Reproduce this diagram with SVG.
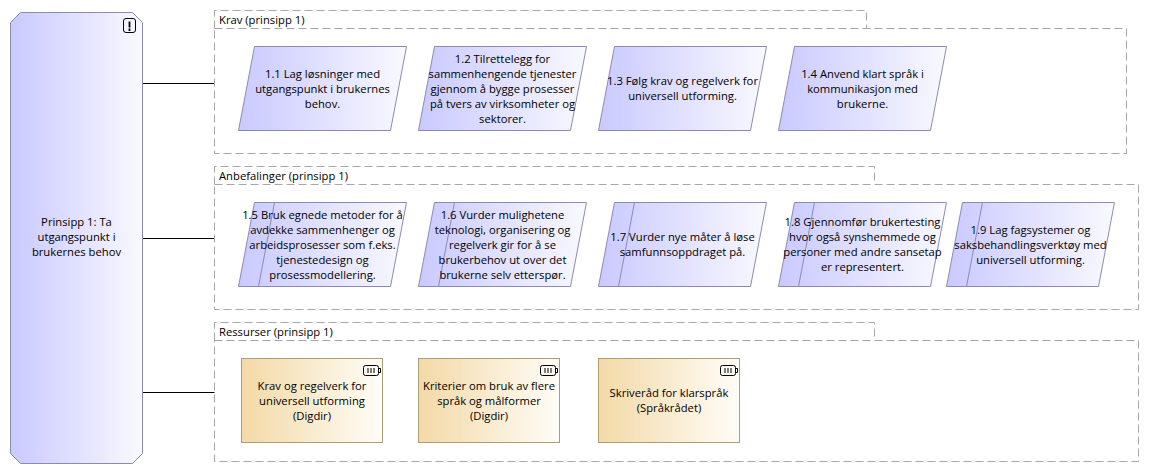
<svg xmlns="http://www.w3.org/2000/svg" width="1149" height="474" viewBox="0 0 1149 474">
<style>
text{font-family:"Open Sans","Noto Sans","Liberation Sans",sans-serif;font-size:11.25px;fill:#000;text-anchor:middle}
.lab{text-anchor:start}
.grp{fill:#fff;stroke:#a6a6a6;stroke-width:1;stroke-dasharray:8 4}
.pr{fill:url(#blue);stroke:#8d89b5;stroke-width:1}
.res{fill:url(#tan);stroke:#ad9f72;stroke-width:1}
.con{stroke:#000;stroke-width:1;fill:none}
.ic{fill:none;stroke:#000;stroke-width:1}
.in{fill:none;stroke:#8d89b5;stroke-width:1}
</style>
<defs>
<linearGradient id="blue"><stop offset="0" stop-color="#c9c9ff"/><stop offset="1" stop-color="#f9f9ff"/></linearGradient>
<linearGradient id="tan"><stop offset="0" stop-color="#f3d9a6"/><stop offset="1" stop-color="#fffdf8"/></linearGradient>
<g id="bat"><rect x="0.500" y="0.500" width="15" height="10" rx="2" class="ic"/><path d="M16 3.500h1.500v4h-1.500M5 3v5M8 3v5M11 3v5" class="ic"/></g>
</defs>
<g id="connectors">
<path class="con" d="M142 83.500H215M142 238.500H215M142 392.500H215"/>
</g>
<g id="prinsipp1">
<path d="M20.500 12.500H132.500L142.500 22.500V453.500L132.500 463.500H20.500L10.500 453.500V22.500Z" fill="url(#blue)" stroke="#8d89b5"/>
<rect x="123.500" y="18.500" width="12" height="14" rx="2.500" class="ic" stroke-width="1.200"/>
<path d="M129.500 21.500v6M129.500 28.500v2.500" class="ic" style="stroke-width:1.800"/>
<text x="76.500" y="226">Prinsipp 1: Ta</text>
<text x="76.500" y="241">utgangspunkt i</text>
<text x="76.500" y="256">brukernes behov</text>
</g>
<g id="krav">
<path class="grp" d="M214.500 28.500V10.500H866.500V28.500"/>
<rect class="grp" x="214.500" y="28.500" width="912" height="125"/>
<text class="lab" x="219" y="24">Krav (prinsipp 1)</text>
</g>
<g id="anbefalinger">
<path class="grp" d="M214.500 184.500V166.500H874.500V184.500"/>
<rect class="grp" x="214.500" y="184.500" width="924" height="125"/>
<text class="lab" x="219" y="180">Anbefalinger (prinsipp 1)</text>
</g>
<g id="ressurser">
<path class="grp" d="M214.500 340.500V322.500H874.500V340.500"/>
<rect class="grp" x="214.500" y="340.500" width="924" height="121"/>
<text class="lab" x="219" y="336">Ressurser (prinsipp 1)</text>
</g>
<g id="n1-1">
<path class="pr" d="M254.500 46.500H406.500L390.500 130.500H238.500Z"/>
<text x="322.500" y="78">1.1 Lag løsninger med</text><text x="322.500" y="93">utgangspunkt i brukernes</text><text x="322.500" y="108">behov.</text>
</g>
<g id="n1-2">
<path class="pr" d="M434.500 46.500H586.500L570.500 130.500H418.500Z"/>
<text x="502.500" y="63">1.2 Tilrettelegg for</text><text x="502.500" y="78">sammenhengende tjenester</text><text x="502.500" y="93">gjennom å bygge prosesser</text><text x="502.500" y="108">på tvers av virksomheter og</text><text x="502.500" y="123">sektorer.</text>
</g>
<g id="n1-3">
<path class="pr" d="M614.500 46.500H766.500L750.500 130.500H598.500Z"/>
<text x="682.500" y="85">1.3 Følg krav og regelverk for</text><text x="682.500" y="100">universell utforming.</text>
</g>
<g id="n1-4">
<path class="pr" d="M794.500 46.500H946.500L930.500 130.500H778.500Z"/>
<text x="862.500" y="78">1.4 Anvend klart språk i</text><text x="862.500" y="93">kommunikasjon med</text><text x="862.500" y="108">brukerne.</text>
</g>
<g id="n1-5">
<path class="pr" d="M254.500 202.500H406.500L390.500 286.500H238.500Z"/><path class="in" d="M274.500 202.500L258.500 286.500"/>
<text x="322.500" y="219">1.5 Bruk egnede metoder for å</text><text x="322.500" y="234">avdekke sammenhenger og</text><text x="322.500" y="249">arbeidsprosesser som f.eks.</text><text x="322.500" y="264">tjenestedesign og</text><text x="322.500" y="279">prosessmodellering.</text>
</g>
<g id="n1-6">
<path class="pr" d="M434.500 202.500H586.500L570.500 286.500H418.500Z"/><path class="in" d="M454.500 202.500L438.500 286.500"/>
<text x="502.500" y="219">1.6 Vurder mulighetene</text><text x="502.500" y="234">teknologi, organisering og</text><text x="502.500" y="249">regelverk gir for å se</text><text x="502.500" y="264">brukerbehov ut over det</text><text x="502.500" y="279">brukerne selv etterspør.</text>
</g>
<g id="n1-7">
<path class="pr" d="M614.500 202.500H766.500L750.500 286.500H598.500Z"/><path class="in" d="M634.500 202.500L618.500 286.500"/>
<text x="682.500" y="241">1.7 Vurder nye måter å løse</text><text x="682.500" y="256">samfunnsoppdraget på.</text>
</g>
<g id="n1-8">
<path class="pr" d="M794.500 202.500H946.500L930.500 286.500H778.500Z"/><path class="in" d="M814.500 202.500L798.500 286.500"/>
<text x="862.500" y="226">1.8 Gjennomfør brukertesting</text><text x="862.500" y="241">hvor også synshemmede og</text><text x="862.500" y="256">personer med andre sansetap</text><text x="862.500" y="271">er representert.</text>
</g>
<g id="n1-9">
<path class="pr" d="M962.500 202.500H1114.500L1098.500 286.500H946.500Z"/><path class="in" d="M982.500 202.500L966.500 286.500"/>
<text x="1030.500" y="234">1.9 Lag fagsystemer og</text><text x="1030.500" y="249">saksbehandlingsverktøy med</text><text x="1030.500" y="264">universell utforming.</text>
</g>
<g id="r1">
<rect class="res" x="241.500" y="358.500" width="141" height="84"/><use href="#bat" x="363" y="365"/>
<text x="312" y="390">Krav og regelverk for</text><text x="312" y="405">universell utforming</text><text x="312" y="420">(Digdir)</text>
</g>
<g id="r2">
<rect class="res" x="418.500" y="358.500" width="141" height="84"/><use href="#bat" x="540" y="365"/>
<text x="489" y="390">Kriterier om bruk av flere</text><text x="489" y="405">språk og målformer</text><text x="489" y="420">(Digdir)</text>
</g>
<g id="r3">
<rect class="res" x="598.500" y="358.500" width="141" height="84"/><use href="#bat" x="720" y="365"/>
<text x="669" y="397">Skriveråd for klarspråk</text><text x="669" y="412">(Språkrådet)</text>
</g>
</svg>
